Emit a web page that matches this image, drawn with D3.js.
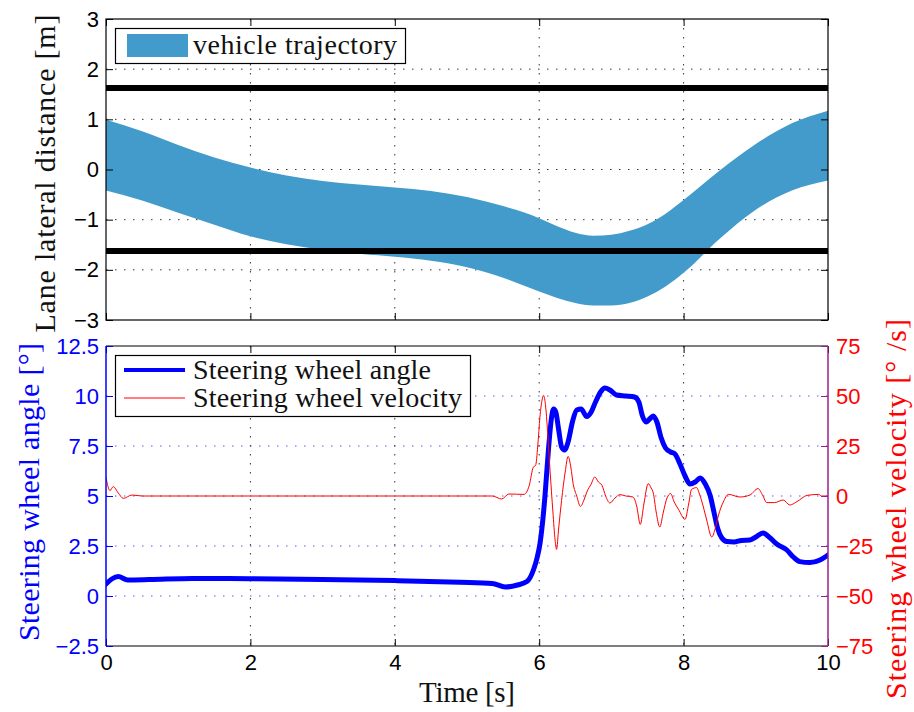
<!DOCTYPE html>
<html>
<head>
<meta charset="utf-8">
<script src="https://cdn.jsdelivr.net/npm/d3@7/dist/d3.min.js"></script>
<style>
  html, body { margin: 0; padding: 0; background: #fff; }
  svg { display: block; }
  .tick text { font-family: "Liberation Sans", Arial, sans-serif; font-size: 22px; }
  .serif { font-family: "Liberation Serif", "Times New Roman", serif; }
</style>
</head>
<body>
<svg id="chart" width="914" height="712"></svg>
<script>
// ---- data ----
// vehicle footprint envelope over time (lateral position of both edges, m)
const trajTime  = [0, 0.5, 1, 1.5, 2, 2.5, 3, 3.5, 4, 4.5, 5, 5.5, 6, 6.25, 6.5, 6.75, 7, 7.25, 7.5, 7.75, 8, 8.5, 9, 9.5, 10];
const trajUpper = [0.99, 0.76, 0.49, 0.24, 0.04, -0.12, -0.23, -0.30, -0.36, -0.43, -0.55, -0.73, -0.97, -1.13, -1.26, -1.32, -1.30, -1.22, -1.09, -0.88, -0.61, -0.02, 0.51, 0.92, 1.17];
const trajLower = [-0.42, -0.62, -0.86, -1.10, -1.33, -1.49, -1.60, -1.68, -1.74, -1.82, -1.95, -2.16, -2.43, -2.56, -2.66, -2.71, -2.71, -2.66, -2.53, -2.33, -2.06, -1.38, -0.80, -0.42, -0.22];
// lane boundaries (m)
const laneEdges = [1.625, -1.625];

// steering wheel angle (deg)
const angleTime = [0, 0.08, 0.17, 0.3, 0.6, 1.2, 2, 3, 4, 4.9, 5.35, 5.53, 5.7, 5.83, 5.92, 5.97, 6.01, 6.05, 6.08, 6.13, 6.17, 6.2, 6.23, 6.27, 6.31, 6.35, 6.4, 6.46, 6.52, 6.58, 6.66, 6.72, 6.78, 6.85, 6.91, 6.98, 7.07, 7.2, 7.32, 7.38, 7.43, 7.48, 7.53, 7.58, 7.63, 7.69, 7.75, 7.82, 7.88, 7.95, 8.02, 8.09, 8.16, 8.23, 8.3, 8.37, 8.42, 8.47, 8.53, 8.6, 8.7, 8.8, 8.92, 9, 9.1, 9.2, 9.29, 9.43, 9.52, 9.61, 9.75, 9.89, 10];
const angleVal  = [0.6, 0.85, 0.97, 0.8, 0.82, 0.88, 0.86, 0.83, 0.77, 0.69, 0.63, 0.45, 0.55, 0.72, 1.3, 1.9, 2.6, 3.8, 5.0, 7.4, 8.9, 9.35, 9.2, 8.3, 7.45, 7.3, 7.7, 8.7, 9.3, 9.35, 8.97, 9.2, 9.7, 10.2, 10.4, 10.3, 10.05, 10.0, 9.95, 9.7, 9.0, 8.7, 8.85, 9.0, 8.7, 7.9, 7.4, 7.2, 7.1, 6.6, 6.0, 5.6, 5.7, 5.9, 5.6, 5.0, 4.2, 3.4, 2.9, 2.72, 2.7, 2.78, 2.8, 2.95, 3.15, 2.9, 2.6, 2.3, 1.95, 1.72, 1.67, 1.8, 2.05];

// steering wheel velocity (deg/s)
const velTime = [0, 0.055, 0.1, 0.17, 0.24, 0.36, 0.5, 1, 2, 3, 4, 5, 5.35, 5.48, 5.58, 5.79, 5.86, 5.92, 5.95, 5.98, 6.01, 6.04, 6.06, 6.09, 6.12, 6.15, 6.19, 6.22, 6.24, 6.27, 6.31, 6.36, 6.4, 6.44, 6.47, 6.52, 6.57, 6.62, 6.66, 6.72, 6.77, 6.82, 6.87, 6.92, 6.98, 7.05, 7.12, 7.2, 7.3, 7.35, 7.4, 7.45, 7.51, 7.55, 7.58, 7.62, 7.67, 7.72, 7.77, 7.82, 7.87, 7.93, 8.02, 8.07, 8.11, 8.18, 8.22, 8.27, 8.32, 8.39, 8.44, 8.48, 8.55, 8.62, 8.78, 8.92, 9.03, 9.1, 9.15, 9.26, 9.38, 9.47, 9.57, 9.71, 9.87, 9.91, 10];
const velVal  = [9.3, 2.7, 4.7, 1.5, -1.2, 0.5, 0, 0, 0, 0, 0, 0, 0, -1.5, 1, 0.8, 5, 14.5, 15.3, 25, 39.5, 48, 50.3, 44.5, 30, 12.8, -8, -22, -26.7, -16, -2.2, 12, 19.8, 14, 6.2, 0, -5.2, -2, 2, 6, 9.5, 7, 5.3, 0, -3.5, -1, 0.7, 0, -0.5, -5, -14.2, -4, 6.2, 4, 1.5, -8, -15.5, -8, -1, 1.2, -3, -6.7, -11.7, -4, 3.3, 4.2, 1, -5, -12, -20.5, -16, -10, -3, 0.8, -0.5, 0.5, 3.7, 0, -3.3, -3.3, -2, -4.5, -2.8, 0.3, 0.8, 0, 0];

// ticks
const timeTicks  = [0, 2, 4, 6, 8, 10];
const laneTicks  = [-3, -2, -1, 0, 1, 2, 3];
const angleTicks = [-2.5, 0, 2.5, 5, 7.5, 10, 12.5];
const velTicks   = [-75, -50, -25, 0, 25, 50, 75];

// ---- layout ----
const svg = d3.select("#chart");
const L = 106, R = 828;
const top1 = 19, bot1 = 320;
const top2 = 346, bot2 = 646;
const TICK = 7;
const purple = "#9a1f8c";

const x = d3.scaleLinear().domain([0, 10]).range([L, R]);
const yLane = d3.scaleLinear().domain([-3, 3]).range([bot1, top1]);
const yAng = d3.scaleLinear().domain([-2.5, 12.5]).range([bot2, top2]);
const yVel = d3.scaleLinear().domain([-75, 75]).range([bot2, top2]);

svg.append("rect").attr("width", 914).attr("height", 712).attr("fill", "#fff");

const defs = svg.append("defs");
defs.append("clipPath").attr("id", "clip1").append("rect")
  .attr("x", L).attr("y", top1).attr("width", R - L).attr("height", bot1 - top1);
defs.append("clipPath").attr("id", "clip2").append("rect")
  .attr("x", L).attr("y", top2).attr("width", R - L).attr("height", bot2 - top2);

const dotted = "1.5,7.5";

// serif label helper: spreads letter spacing over a given run length
function serifText(parent, str, size, color, len) {
  return parent.append("text").attr("class", "serif")
    .attr("font-size", size).attr("fill", color)
    .attr("textLength", len).attr("lengthAdjust", "spacing")
    .text(str);
}

// ---------- top panel ----------
const g1 = svg.append("g");
// grid
g1.append("g").selectAll("line").data(laneTicks.slice(1, -1)).join("line")
  .attr("x1", L).attr("x2", R).attr("y1", d => yLane(d)).attr("y2", d => yLane(d))
  .attr("stroke", "#333").attr("stroke-width", 1).attr("stroke-dasharray", dotted);
g1.append("g").selectAll("line").data(timeTicks.slice(1, -1)).join("line")
  .attr("x1", d => x(d)).attr("x2", d => x(d)).attr("y1", top1).attr("y2", bot1)
  .attr("stroke", "#333").attr("stroke-width", 1).attr("stroke-dasharray", dotted);

// trajectory envelope
const band = trajTime.map((t, i) => ({ t, lo: trajLower[i], hi: trajUpper[i] }));
g1.append("path").datum(band)
  .attr("clip-path", "url(#clip1)")
  .attr("fill", "#429bca")
  .attr("d", d3.area().x(d => x(d.t)).y0(d => yLane(d.lo)).y1(d => yLane(d.hi)).curve(d3.curveMonotoneX));

// lane edges
g1.append("g").selectAll("line").data(laneEdges).join("line")
  .attr("x1", L).attr("x2", R).attr("y1", d => yLane(d)).attr("y2", d => yLane(d))
  .attr("stroke", "#000").attr("stroke-width", 6);

// axes
function styleAxis(sel, color) {
  sel.select(".domain").remove();
  sel.selectAll(".tick line").attr("stroke", color);
  sel.selectAll(".tick text").attr("fill", color);
}
g1.append("g").attr("transform", `translate(${L},0)`)
  .call(d3.axisLeft(yLane).tickValues(laneTicks).tickSize(-TICK).tickPadding(7).tickFormat(d3.format("d")))
  .call(s => styleAxis(s, "#000"));
g1.append("g").attr("transform", `translate(${R},0)`)
  .call(d3.axisRight(yLane).tickValues(laneTicks).tickSize(-TICK).tickFormat(""))
  .call(s => styleAxis(s, "#000"));
g1.append("g").attr("transform", `translate(0,${top1})`)
  .call(d3.axisTop(x).tickValues(timeTicks).tickSize(-TICK).tickFormat(""))
  .call(s => styleAxis(s, "#000"));
g1.append("g").attr("transform", `translate(0,${bot1})`)
  .call(d3.axisBottom(x).tickValues(timeTicks).tickSize(-TICK).tickFormat(""))
  .call(s => styleAxis(s, "#000"));
g1.append("rect").attr("x", L).attr("y", top1).attr("width", R - L).attr("height", bot1 - top1)
  .attr("fill", "none").attr("stroke", "#000").attr("stroke-width", 1.2);

// legend
const lg1 = g1.append("g");
lg1.append("rect").attr("x", 115.5).attr("y", 28.5).attr("width", 290).attr("height", 35)
  .attr("fill", "#fff").attr("stroke", "#000").attr("stroke-width", 1.2);
lg1.append("rect").attr("x", 127).attr("y", 34).attr("width", 61).attr("height", 23).attr("fill", "#429bca");
serifText(lg1, "vehicle trajectory", 28, "#111", 204).attr("x", 193).attr("y", 54);

// y label
serifText(svg, "Lane lateral distance [m]", 30, "#111", 318)
  .attr("transform", `translate(55,${(top1 + bot1) / 2 + 4}) rotate(-90)`)
  .attr("text-anchor", "middle");

// ---------- bottom panel ----------
const g2 = svg.append("g");
g2.append("g").selectAll("line").data(angleTicks.slice(1, -1)).join("line")
  .attr("x1", L).attr("x2", R).attr("y1", d => yAng(d)).attr("y2", d => yAng(d))
  .attr("stroke", "#5a5aff").attr("stroke-width", 1).attr("stroke-dasharray", dotted);
g2.append("g").selectAll("line").data(timeTicks.slice(1, -1)).join("line")
  .attr("x1", d => x(d)).attr("x2", d => x(d)).attr("y1", top2).attr("y2", bot2)
  .attr("stroke", "#333").attr("stroke-width", 1).attr("stroke-dasharray", dotted);

const angle = angleTime.map((t, i) => ({ t, v: angleVal[i] }));
const vel = velTime.map((t, i) => ({ t, v: velVal[i] }));

g2.append("path").datum(angle).attr("clip-path", "url(#clip2)")
  .attr("fill", "none").attr("stroke", "#0000ff").attr("stroke-width", 5)
  .attr("stroke-linejoin", "round").attr("stroke-linecap", "round")
  .attr("d", d3.line().x(d => x(d.t)).y(d => yAng(d.v)).curve(d3.curveMonotoneX));
g2.append("path").datum(vel).attr("clip-path", "url(#clip2)")
  .attr("fill", "none").attr("stroke", "#ff0000").attr("stroke-width", 1)
  .attr("stroke-linejoin", "round")
  .attr("d", d3.line().x(d => x(d.t)).y(d => yVel(d.v)).curve(d3.curveMonotoneX));

// frame: top and bottom black, left blue, right purple
g2.append("line").attr("x1", L).attr("x2", R).attr("y1", top2).attr("y2", top2).attr("stroke", "#000").attr("stroke-width", 1.2);
g2.append("line").attr("x1", L).attr("x2", R).attr("y1", bot2).attr("y2", bot2).attr("stroke", "#000").attr("stroke-width", 1.2);

g2.append("g").attr("transform", `translate(0,${top2})`)
  .call(d3.axisTop(x).tickValues(timeTicks).tickSize(-TICK).tickFormat(""))
  .call(s => styleAxis(s, "#000"));
g2.append("g").attr("transform", `translate(0,${bot2})`)
  .call(d3.axisBottom(x).tickValues(timeTicks).tickSize(-TICK).tickPadding(8).tickFormat(d3.format("d")))
  .call(s => styleAxis(s, "#000"));
g2.append("g").attr("transform", `translate(${L},0)`)
  .call(d3.axisLeft(yAng).tickValues(angleTicks).tickSize(-TICK).tickPadding(7).tickFormat(d3.format(".2~f")))
  .call(s => styleAxis(s, "#0000ff"));
g2.append("g").attr("transform", `translate(${R},0)`)
  .call(d3.axisRight(yVel).tickValues(velTicks).tickSize(-TICK).tickPadding(8).tickFormat(d3.format("d")))
  .call(s => { styleAxis(s, "#ff0000"); s.selectAll(".tick line").attr("stroke", purple); });
g2.append("line").attr("x1", L).attr("x2", L).attr("y1", top2).attr("y2", bot2).attr("stroke", "#0000ff").attr("stroke-width", 1.5);
g2.append("line").attr("x1", R).attr("x2", R).attr("y1", top2).attr("y2", bot2).attr("stroke", purple).attr("stroke-width", 1.5);

// legend
const lg2 = g2.append("g");
lg2.append("rect").attr("x", 115.5).attr("y", 355.5).attr("width", 355).attr("height", 61)
  .attr("fill", "#fff").attr("stroke", "#000").attr("stroke-width", 1.2);
lg2.append("line").attr("x1", 124).attr("x2", 185).attr("y1", 370).attr("y2", 370)
  .attr("stroke", "#0000ff").attr("stroke-width", 4);
lg2.append("line").attr("x1", 124).attr("x2", 185).attr("y1", 398).attr("y2", 398)
  .attr("stroke", "#ff0000").attr("stroke-width", 1);
serifText(lg2, "Steering wheel angle", 28, "#111", 238).attr("x", 193).attr("y", 379);
serifText(lg2, "Steering wheel velocity", 28, "#111", 269).attr("x", 193).attr("y", 407);

// axis titles
serifText(svg, "Steering wheel angle [°]", 30, "#0000ff", 298)
  .attr("transform", `translate(39,${(top2 + bot2) / 2 - 4}) rotate(-90)`)
  .attr("text-anchor", "middle");
serifText(svg, "Steering wheel velocity [° /s]", 30, "#ff0000", 380)
  .attr("transform", `translate(906,${(top2 + bot2) / 2 + 13}) rotate(-90)`)
  .attr("text-anchor", "middle");
serifText(svg, "Time [s]", 29, "#111", 96)
  .attr("x", (L + R) / 2).attr("y", 702)
  .attr("text-anchor", "middle");
</script>
</body>
</html>
